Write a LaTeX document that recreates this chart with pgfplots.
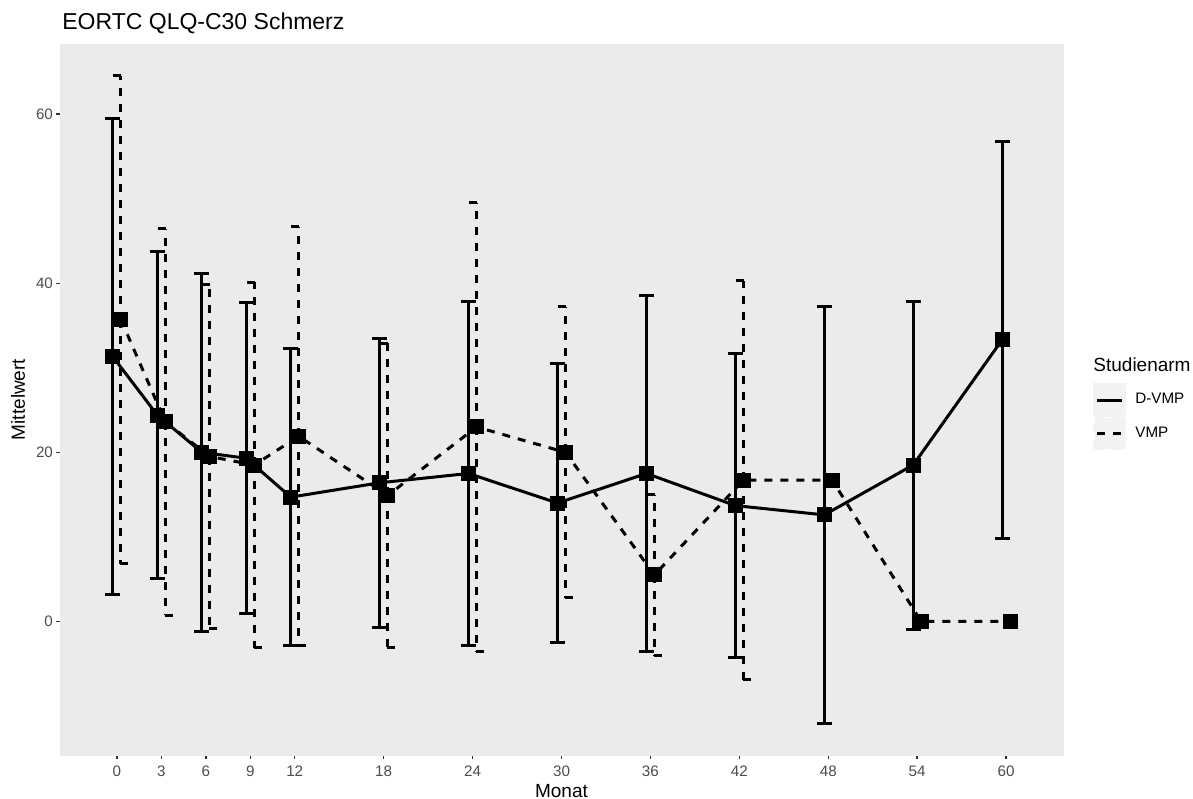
\documentclass[border=0pt]{standalone}
\usepackage{pgfplots}
\pgfplotsset{compat=1.18}
\usepackage{pgfplotstable}
\usepackage{fontspec}
\setmainfont{Liberation Sans}

\definecolor{panel}{HTML}{EBEBEB}
\definecolor{keybg}{HTML}{F2F2F2}
\definecolor{ticklab}{HTML}{4D4D4D}
\definecolor{tickcol}{HTML}{333333}

% Mittelwert und SD je Monat
\pgfplotstableread{
monat mw sd
0  31.3 28.15
3  24.4 19.3
6  20.0 21.2
9  19.3 18.4
12 14.7 17.55
18 16.4 17.1
24 17.5 20.35
30 14.0 16.55
36 17.5 21.1
42 13.7 18.0
48 12.6 24.65
54 18.5 19.4
60 33.3 23.5
}\dvmp

\pgfplotstableread{
monat mw sd
0  35.7 28.85
3  23.6 22.85
6  19.5 20.3
9  18.5 21.6
12 21.9 24.8
18 14.9 18.0
24 23.0 26.55
30 20.0 17.2
36 5.5  9.5
42 16.7 23.6
48 16.7 0
54 0.0  0
60 0.0  0
}\vmp

\begin{document}
\begin{tikzpicture}
\path[use as bounding box, fill=white] (0,0) rectangle (596.5pt,399pt);
\begin{axis}[
    at={(30pt,21.5pt)}, anchor=south west,
    scale only axis, width=501.5pt, height=355.5pt,
    xmin=-3.84, xmax=63.84, ymin=-15.8, ymax=68.3,
    axis background/.style={fill=panel},
    axis line style={draw=panel, line width=0.1pt},
    tick pos=left, tick align=outside,
    major tick length=2pt,
    every tick/.style={draw=tickcol, line width=0.7pt},
    xtick={0,3,6,9,12,18,24,30,36,42,48,54,60},
    ytick={0,20,40,60},
    ticklabel style={font=\fontsize{7.6}{9}\selectfont, text=ticklab},
    yticklabel style={xshift=2pt},
    /pgf/number format/assume math mode=true,
    every axis title shift=0pt,
    title={EORTC QLQ-C30 Schmerz},
    title style={at={(axis description cs:0.002,1.0197)}, anchor=base west,
        inner sep=0pt, font=\fontsize{11.5}{13}\selectfont},
    xlabel={Monat}, ylabel={Mittelwert},
    label style={font=\fontsize{9.5}{11}\selectfont, inner sep=0pt},
    xlabel style={at={(axis description cs:0.5,-0.0591)}, anchor=base},
    ylabel style={at={(axis description cs:-0.0349,0.5)}, anchor=base},
    legend style={at={(axis description cs:1.0299,0.5232)}, anchor=north west,
        draw=none, fill=none, inner sep=0pt, row sep=0pt,
        font=\fontsize{7.6}{9}\selectfont, nodes={inner sep=0pt}},
    legend cell align=left,
    legend image code/.code={
        \fill[keybg] (0pt,-7.6pt) rectangle (15pt,7.6pt);
        \draw[#1, mark=none] (1.25pt,0pt) -- (13.75pt,0pt);
        \path (19.5pt,0pt);
    },
]
% Fehlerbalken
\addplot[forget plot, draw=none, mark=none,
    error bars/.cd, y dir=both, y explicit,
    error bar style={draw=black, line width=1.5pt},
    error mark options={rotate=90, draw=black, line width=1.5pt, mark size=3.75pt}]
    table [x expr=\thisrow{monat}-0.27, y=mw, y error=sd] {\dvmp};
\addplot[forget plot, draw=none, mark=none, skip coords between index={10}{13},
    error bars/.cd, y dir=both, y explicit,
    error bar style={draw=black, line width=1.5pt, dash pattern=on 4pt off 4pt},
    error mark options={rotate=90, draw=black, line width=1.5pt, mark size=3.75pt,
        dash pattern=on 4pt off 4pt}]
    table [x expr=\thisrow{monat}+0.27, y=mw, y error=sd] {\vmp};
% Linien und Punkte
\addplot[black, line width=1.5pt, mark=square*,
    mark size=3.5pt, mark options={solid, line width=0.5pt}]
    table [x expr=\thisrow{monat}-0.27, y=mw] {\dvmp};
\addlegendentry{D-VMP}
\addplot[black, line width=1.5pt, dash pattern=on 4pt off 4pt, mark=square*,
    mark size=3.5pt, mark options={solid, line width=0.5pt}]
    table [x expr=\thisrow{monat}+0.27, y=mw] {\vmp};
\addlegendentry{VMP}
\end{axis}
\node[anchor=base west, inner sep=0pt, font=\fontsize{9.5}{11}\selectfont]
    at (546.5pt,213pt) {Studienarm};
\end{tikzpicture}
\end{document}
